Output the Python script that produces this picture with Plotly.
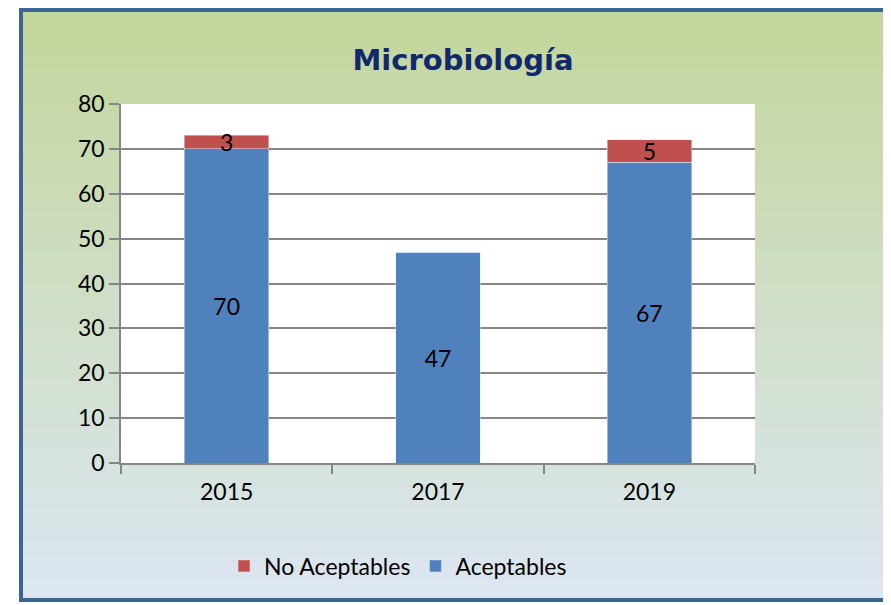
import plotly.graph_objects as go

years = ["2015", "2017", "2019"]
aceptables = [70, 47, 67]
no_aceptables = [3, 0, 5]
y_ticks = [0, 10, 20, 30, 40, 50, 60, 70, 80]

# page is rendered with an 8px body margin; work in page pixels and shift
OFF = 8
W, H = 891 - OFF, 605 - OFF
PL, PR, PT, PB = 121, 755, 104, 463  # plot area in page pixels
L, T = PL - OFF, PT - OFF
R, B = W - (PR - OFF), H - (PB - OFF)
pw, ph = PR - PL, PB - PT

def px(x):
    return (x - PL) / pw

def py(y):
    return (PB - y) / ph

BLUE = "#4F81BD"
RED = "#C0504D"
FONT = "Lato"

fig = go.Figure()
fig.add_trace(go.Bar(
    x=years, y=aceptables, name="Aceptables", marker_color=BLUE,
    text=[str(v) if v else "" for v in aceptables], textposition="inside",
    insidetextanchor="middle", constraintext="none", textangle=0,
    textfont=dict(size=23, color="black", family=FONT),
))
fig.add_trace(go.Bar(
    x=years, y=no_aceptables, name="No Aceptables", marker_color=RED,
    text=[str(v) if v else "" for v in no_aceptables], textposition="inside",
    insidetextanchor="middle", constraintext="none", textangle=0,
    textfont=dict(size=23, color="black", family=FONT),
))

# gradient background
shapes = []
top = (0xC3, 0xD6, 0x9B)
bot = (0xDC, 0xE6, 0xF2)
n = 120
x0, x1, y0, y1 = 21, 887, 10, 600
for i in range(n):
    t = i / (n - 1)
    c = tuple(round(top[k] + (bot[k] - top[k]) * t) for k in range(3))
    ya = y0 + (y1 - y0) * i / n
    yb = y0 + (y1 - y0) * (i + 1) / n + 0.8
    shapes.append(dict(type="rect", xref="paper", yref="paper", layer="below",
                       x0=px(x0), x1=px(x1), y0=py(ya), y1=py(min(yb, y1)),
                       line=dict(width=0), fillcolor="rgb(%d,%d,%d)" % c))
shapes.append(dict(type="rect", xref="paper", yref="paper", layer="below",
                   x0=0, x1=1, y0=0, y1=1, line=dict(width=0), fillcolor="white"))
shapes.append(dict(type="rect", xref="paper", yref="paper", layer="above",
                   x0=px(x0), x1=px(x1), y0=py(y0), y1=py(y1),
                   line=dict(width=4, color="#3B6597"), fillcolor="rgba(0,0,0,0)"))

fig.update_layout(
    width=W, height=H,
    margin=dict(l=L, r=R, t=T, b=B, pad=0),
    paper_bgcolor="white", plot_bgcolor="white",
    barmode="stack", bargap=0.6,
    font=dict(family=FONT, size=23, color="black"),
    title=dict(text="<b>Microbiología</b>", x=(463 - OFF) / W, xanchor="center",
               y=1 - (60 - OFF) / H, yanchor="middle",
               font=dict(size=29, color="#11286A", family="DejaVu Sans")),
    xaxis=dict(type="category", tickson="boundaries", ticks="outside", ticklen=9,
               tickcolor="#868686", tickwidth=1.5, showline=True, linecolor="#868686",
               linewidth=1.5, showgrid=False, tickfont=dict(size=23),
               ticklabelstandoff=8),
    yaxis=dict(range=[0, 80], tickvals=y_ticks, ticks="outside", ticklen=10,
               tickcolor="#868686", tickwidth=1.5, showline=True, linecolor="#868686",
               linewidth=1.5, showgrid=True, gridcolor="#868686", gridwidth=1.5,
               zeroline=False, tickfont=dict(size=23)),
    legend=dict(orientation="h", traceorder="reversed", x=px(398), xanchor="center",
                y=py(566), yanchor="middle", font=dict(size=23),
                bgcolor="rgba(0,0,0,0)"),
    shapes=shapes,
    showlegend=True,
)

fig.write_html("out.html")
